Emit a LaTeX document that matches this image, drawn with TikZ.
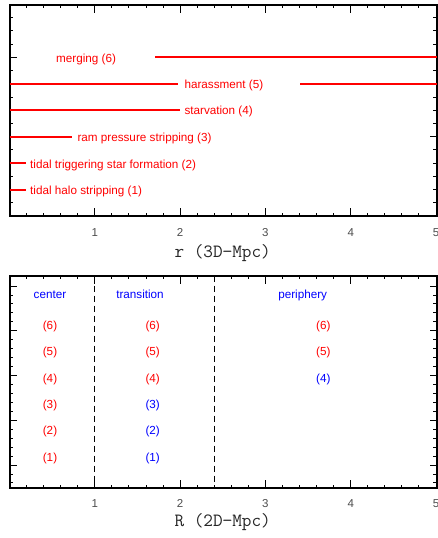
\documentclass[tikz,border=0pt]{standalone}
\usepackage{fontspec}
\setmainfont{Liberation Sans}
\begin{document}
\begin{tikzpicture}[x=1pt,y=-1pt,
  frame/.style={line width=2pt},
  tickmark/.style={line width=0.9pt},
  redline/.style={red, line width=1.05pt},
  lbl/.style={inner sep=0pt, font=\fontsize{11.7}{14}\selectfont},
  ticklbl/.style={inner sep=0pt, text=black!70, font=\fontsize{11.5}{14}\selectfont},
  axtitle/.style={inner sep=0pt, text=black!85, font=\ttfamily\fontsize{18.7}{22}\selectfont},
  divider/.style={line width=0.9pt, dash pattern=on 6pt off 4pt}]
\useasboundingbox (0,0) rectangle (438,538);

% ---------- top panel ----------
\foreach \k in {1,...,24} {
  \pgfmathsetmacro\xx{9.5+17.06*\k}
  \pgfmathsetmacro\len{mod(\k,5)==0 ? 8 : 3}
  \draw[tickmark] (\xx,216) -- ++(0,-\len);
  \draw[tickmark] (\xx,5) -- ++(0,\len);
}
\foreach \k in {1,...,15} {
  \pgfmathsetmacro\yy{216-13.22*\k}
  \pgfmathsetmacro\len{mod(\k,6)==0 ? 7 : 3.5}
  \draw[tickmark] (9.5,\yy) -- ++(\len,0);
  \draw[tickmark] (436.5,\yy) -- ++(-\len,0);
}
\draw[frame] (9.5,5) rectangle (436.5,216);

\draw[redline] (155,57) -- (436.5,57);
\node[lbl, text=red, anchor=west] (m6) at (56,59) {merging (6)};
\draw[redline] (9.5,84) -- (178.3,84);
\draw[redline] (300,84) -- (436.5,84);
\node[lbl, text=red, anchor=west] (m5) at (184.3,85.5) {harassment (5)};
\draw[redline] (9.5,110) -- (180,110);
\node[lbl, text=red, anchor=west] (m4) at (184.3,111.8) {starvation (4)};
\draw[redline] (9.5,137) -- (72.3,137);
\node[lbl, text=red, anchor=west] (m3) at (77.3,138.3) {ram pressure stripping (3)};
\draw[redline] (9.5,163) -- (26,163);
\node[lbl, text=red, anchor=west] (m2) at (30,165) {tidal triggering star formation (2)};
\draw[redline] (9.5,190) -- (26,190);
\node[lbl, text=red, anchor=west] (m1) at (30,191.5) {tidal halo stripping (1)};

\node[ticklbl] (ta1) at (94.8,232.3) {1};
\node[ticklbl] (ta2) at (180.1,232.3) {2};
\node[ticklbl] (ta3) at (265.4,232.3) {3};
\node[ticklbl] (ta4) at (350.7,232.3) {4};
\node[ticklbl] (ta5) at (436,232.3) {5};
\node[axtitle] (tat) at (222.7,253) {r (3D−Mpc)};

% ---------- bottom panel ----------
\foreach \k in {1,...,24} {
  \pgfmathsetmacro\xx{9.5+17.06*\k}
  \pgfmathsetmacro\len{mod(\k,5)==0 ? 8 : 3}
  \draw[tickmark] (\xx,487.5) -- ++(0,-\len);
  \draw[tickmark] (\xx,275.5) -- ++(0,\len);
}
\foreach \k in {-5,...,17} {
  \pgfmathsetmacro\yy{330.75+8.95*\k}
  \pgfmathsetmacro\len{mod(\k+10,5)==0 ? 7 : 3.5}
  \draw[tickmark] (9.5,\yy) -- ++(\len,0);
  \draw[tickmark] (436.5,\yy) -- ++(-\len,0);
}
\coordinate (d1t) at (94.8,275.5);
\coordinate (d1b) at (94.8,487.5);
\coordinate (d2t) at (214.2,275.5);
\coordinate (d2b) at (214.2,487.5);
\draw[divider] (d1t) -- (d1b);
\draw[divider] (d2t) -- (d2b);
\draw[frame] (9.5,275.5) rectangle (436.5,487.5);

\node[lbl, text=blue, anchor=base] (hc) at (50,298.3) {center};
\node[lbl, text=blue, anchor=base] (ht) at (140,298.3) {transition};
\node[lbl, text=blue, anchor=base] (hp) at (302.7,298.3) {periphery};

\foreach \n/\yy in {6/326.6,5/352.9,4/379.2,3/405.5,2/431.8,1/458.1} {
  \node[lbl, text=red] (c\n) at (50,\yy) {(\n)};
}
\foreach \n/\yy/\col in {6/326.6/red,5/352.9/red,4/379.2/red,3/405.5/blue,2/431.8/blue,1/458.1/blue} {
  \node[lbl, text=\col] (tr\n) at (152.7,\yy) {(\n)};
}
\foreach \n/\yy/\col in {6/326.6/red,5/352.9/red,4/379.2/blue} {
  \node[lbl, text=\col] (p\n) at (323.3,\yy) {(\n)};
}

\node[ticklbl] (tb1) at (94.8,503.3) {1};
\node[ticklbl] (tb2) at (180.1,503.3) {2};
\node[ticklbl] (tb3) at (265.4,503.3) {3};
\node[ticklbl] (tb4) at (350.7,503.3) {4};
\node[ticklbl] (tb5) at (436,503.3) {5};
\node[axtitle] (tbt) at (222.7,522.5) {R (2D−Mpc)};
\end{tikzpicture}
\end{document}
